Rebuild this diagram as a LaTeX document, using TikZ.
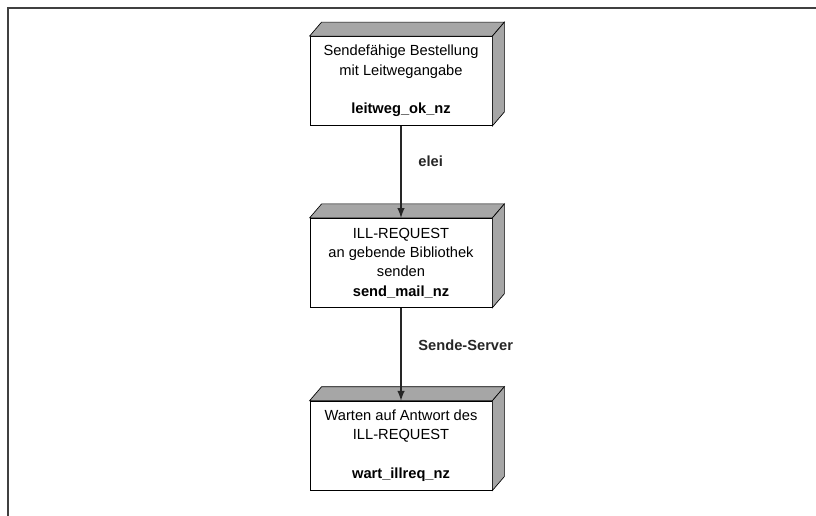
\documentclass[tikz,border=0pt]{standalone}
\usepackage{fontspec}
\setmainfont{Liberation Sans}
\usepackage{tikz}
\usetikzlibrary{arrows,positioning,calc}

\begin{document}
\begin{tikzpicture}[
  x=0.75pt, y=-0.75pt,
  zustand/.style={rectangle, draw, fill=white, line width=0.6pt, minimum width=136.5pt, minimum height=66.75pt, align=center, font=\fontsize{11}{14.5}\selectfont, inner sep=0pt},
  flaeche/.style={draw, line width=0.5pt, fill=gray!70},
  kante/.style={font=\fontsize{11}{13}\selectfont\bfseries, text=black!85}
]
\useasboundingbox (0,0) rectangle (816,516);

% Rahmen
\draw[line width=1.5pt, black!75] (816,8) -- (8,8) -- (8,516);

\node[zustand] (leitweg) at (401,81) {Sendefähige Bestellung\\mit Leitwegangabe\\[14.5pt]\textbf{leitweg\_ok\_nz}};
\fill[flaeche] (leitweg.north west) -- ++(12,-14) -- ($(leitweg.north east)+(12,-14)$) -- (leitweg.north east) -- cycle;
\fill[flaeche] (leitweg.north east) -- ++(12,-14) -- ($(leitweg.south east)+(12,-14)$) -- (leitweg.south east) -- cycle;

\node[zustand, below=69pt of leitweg] (sendmail) {ILL-REQUEST\\an gebende Bibliothek\\senden\\\textbf{send\_mail\_nz}};
\fill[flaeche] (sendmail.north west) -- ++(12,-14) -- ($(sendmail.north east)+(12,-14)$) -- (sendmail.north east) -- cycle;
\fill[flaeche] (sendmail.north east) -- ++(12,-14) -- ($(sendmail.south east)+(12,-14)$) -- (sendmail.south east) -- cycle;
\draw[->, >=latex, line width=1.5pt, black!85] (leitweg) -- node[kante, pos=0.38, right=9pt] (elei) {elei} (sendmail);

\node[zustand, below=69.75pt of sendmail] (wartill) {Warten auf Antwort des\\ILL-REQUEST\\[14.5pt]\textbf{wart\_illreq\_nz}};
\fill[flaeche] (wartill.north west) -- ++(12,-14) -- ($(wartill.north east)+(12,-14)$) -- (wartill.north east) -- cycle;
\fill[flaeche] (wartill.north east) -- ++(12,-14) -- ($(wartill.south east)+(12,-14)$) -- (wartill.south east) -- cycle;
\draw[->, >=latex, line width=1.5pt, black!85] (sendmail) -- node[kante, pos=0.4, right=9pt] (server) {Sende-Server} (wartill);

\end{tikzpicture}
\end{document}
